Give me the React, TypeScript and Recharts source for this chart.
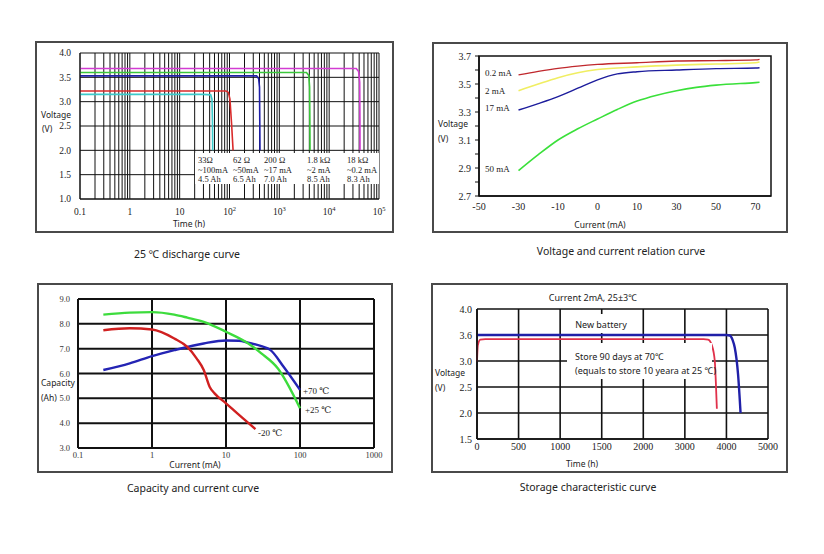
import React from 'react';
import { LineChart, Line, XAxis, YAxis, CartesianGrid, ReferenceArea } from 'recharts';

type P = [number, number];

// ---------- Panel 1: 25 ℃ discharge curve ----------
const dischargeDecades = [0.1, 1, 10, 100, 1000, 10000, 100000];
const dischargeXTickLabels = ['0.1', '1', '10', '10^2', '10^3', '10^4', '10^5'];
const dischargeYTicks = [1.0, 1.5, 2.0, 2.5, 3.0, 3.5, 4.0];
const discharge33: P[] = [[0.1, 3.15], [30, 3.15], [42, 3.14], [44.5, 3.05], [45.5, 2.6], [46, 2.0]];
const discharge62: P[] = [[0.1, 3.22], [85, 3.22], [95, 3.19], [102, 3.05], [110, 2.55], [118, 2.0]];
const discharge200: P[] = [[0.1, 3.53], [350, 3.53], [385, 3.47], [400, 3.3], [405, 2.6], [409, 2.0]];
const discharge1k8: P[] = [[0.1, 3.6], [3500, 3.6], [3900, 3.54], [4050, 3.3], [4100, 2.6], [4130, 2.0]];
const discharge18k: P[] = [[0.1, 3.68], [35000, 3.68], [39000, 3.62], [41000, 3.4], [41500, 2.6], [41600, 2.0]];
const dischargeLoadRes = ['33Ω', '62 Ω', '200 Ω', '1.8 kΩ', '18 kΩ'];
const dischargeLoadCur = ['~100mA', '~50mA', '~17 mA', '~2 mA', '~0.2 mA'];
const dischargeLoadCap = ['4.5 Ah', '6.5 Ah', '7.0 Ah', '8.5 Ah', '8.3 Ah'];

// ---------- Panel 2: voltage and current relation ----------
const relXTickLabels = [-50, -30, -10, 0, 10, 30, 50, 70];
const relYMajor = [2.7, 2.9, 3.1, 3.3, 3.5, 3.7];
const relYMinor = [2.8, 3.0, 3.2, 3.4, 3.6];
const rel02: P[] = [[-30, 3.565], [-20, 3.59], [-10, 3.612], [-5, 3.628], [0, 3.64], [10, 3.652], [30, 3.664], [50, 3.667], [70, 3.672], [72, 3.676]];
const rel2: P[] = [[-30, 3.452], [-20, 3.5], [-10, 3.545], [-5, 3.58], [0, 3.603], [10, 3.622], [30, 3.635], [50, 3.643], [70, 3.652], [72, 3.657]];
const rel17: P[] = [[-30, 3.314], [-20, 3.36], [-10, 3.41], [-5, 3.47], [0, 3.53], [5, 3.572], [10, 3.588], [30, 3.6], [50, 3.61], [70, 3.614], [72, 3.616]];
const rel50: P[] = [[-30, 2.881], [-20, 2.995], [-10, 3.1], [-5, 3.18], [0, 3.25], [5, 3.318], [10, 3.378], [20, 3.42], [30, 3.452], [40, 3.476], [50, 3.492], [70, 3.51], [72, 3.512]];

// ---------- Panel 3: capacity and current ----------
const capXTicks = [0.1, 1, 10, 100, 1000];
const capYTicks = [3, 4, 5, 6, 7, 8, 9];
const capP25: P[] = [[0.22, 8.37], [0.5, 8.45], [1, 8.47], [2, 8.37], [3, 8.25], [5, 8.08], [10, 7.68], [20, 7.21], [30, 6.81], [50, 6.21], [100, 4.6]];
const capP70: P[] = [[0.22, 6.14], [0.5, 6.41], [1, 6.7], [2, 6.94], [5, 7.21], [10, 7.33], [15, 7.32], [20, 7.24], [30, 7.1], [40, 6.94], [60, 6.27], [100, 5.34]];
const capM20: P[] = [[0.22, 7.74], [0.5, 7.82], [1, 7.77], [2, 7.41], [3, 7.07], [4, 6.61], [5, 6.14], [6, 5.47], [7, 5.2], [10, 4.8], [15, 4.33], [25, 3.76]];

// ---------- Panel 4: storage characteristic ----------
const storXTickLabels = [0, 500, 1000, 1500, 2000, 3000, 4000, 5000];
const storYTicks = [1.5, 2.0, 2.5, 3.0, 3.5, 4.0];
const storYTickLabels = ['1.5', '2.0', '2.5', '3.0', '3.6', '4.0'];
const storNew: P[] = [[0, 3.5], [2000, 3.5], [4000, 3.5], [4080, 3.49], [4150, 3.4], [4200, 3.26], [4280, 2.74], [4340, 2.0]];
const storStored: P[] = [[0, 2.99], [10, 3.3], [40, 3.41], [100, 3.42], [2000, 3.42], [3450, 3.42], [3560, 3.41], [3650, 3.3], [3720, 3.0], [3745, 2.6], [3770, 2.08]];

// ---------- helpers ----------
const SERIF = '"Liberation Serif", "DejaVu Serif", serif';
const SANS = '"Noto Sans", "DejaVu Sans", sans-serif';

const toXY = (pts: P[]) => pts.map(([x, y]) => ({ x, y }));
// equally spaced category labels -> position index (piecewise linear)
const labelPos = (labels: number[], v: number) => {
  for (let i = 0; i < labels.length - 1; i++) {
    if (v <= labels[i + 1] || i === labels.length - 2) {
      return i + (v - labels[i]) / (labels[i + 1] - labels[i]);
    }
  }
  return 0;
};
const toPosXY = (labels: number[], pts: P[]) => pts.map(([x, y]) => ({ x: labelPos(labels, x), y }));

const dischargeGridTicks: number[] = [];
dischargeDecades.slice(0, -1).forEach((d) => {
  for (let k = 1; k <= 9; k++) dischargeGridTicks.push(k * d);
});
dischargeGridTicks.push(dischargeDecades[dischargeDecades.length - 1]);

const DischargeXTick = (props: any) => {
  const { x, y, payload } = props;
  const idx = dischargeDecades.findIndex((d) => Math.abs(Math.log10(d) - Math.log10(payload.value)) < 1e-6);
  if (idx < 0) return <g />;
  const [base, exp] = dischargeXTickLabels[idx].split('^');
  return (
    <text x={x} y={y} dy="0.71em" textAnchor="middle" fontFamily={SERIF} fontSize={9.5} fill="#222">
      {base}
      {exp ? <tspan dy={-4} fontSize={6.5}>{exp}</tspan> : null}
    </text>
  );
};

const Txt = ({ x, y, children, size = 9, serif = false, center = false, bg, color = '#222' }: any) => (
  <div
    style={{
      position: 'absolute',
      left: x,
      top: y,
      transform: center ? 'translate(-50%, -50%)' : 'translate(0, -50%)',
      fontFamily: serif ? SERIF : SANS,
      fontSize: size,
      lineHeight: 1,
      whiteSpace: 'nowrap',
      color,
      background: bg,
    }}
  >
    {children}
  </div>
);

const Box = ({ x, y, w, h }: any) => (
  <div style={{ position: 'absolute', left: x, top: y, width: w, height: h, border: '2px solid #4a4a4a', boxSizing: 'border-box' }} />
);

const Abs = ({ x, y, children }: any) => <div style={{ position: 'absolute', left: x, top: y }}>{children}</div>;

export default function App() {
  return (
    <div style={{ position: 'absolute', left: 0, top: 0, width: 824, height: 554, background: '#fff', overflow: 'hidden' }}>
      {/* Panel boxes */}
      <Box x={35} y={41} w={359} h={192} />
      <Box x={432} y={42} w={356} h={191} />
      <Box x={37} y={283} w={356} h={190} />
      <Box x={431} y={283} w={357} h={190} />

      {/* Panel 1 */}
      <Abs x={36} y={42}>
        <LineChart width={360} height={190} margin={{ top: 11, right: 17, bottom: 0, left: 0 }}>
          <CartesianGrid stroke="#111" strokeWidth={1} />
          <XAxis
            type="number"
            dataKey="x"
            scale="log"
            domain={[0.1, 100000]}
            ticks={dischargeGridTicks}
            interval={0}
            tick={<DischargeXTick />}
            tickLine={false}
            tickSize={0}
            tickMargin={9}
            height={33}
            axisLine={{ stroke: '#111' }}
            allowDataOverflow
          />
          <YAxis
            type="number"
            dataKey="y"
            domain={[1, 4]}
            ticks={dischargeYTicks}
            tickFormatter={(v: number) => v.toFixed(1)}
            width={44}
            tickLine={false}
            tickSize={0}
            tickMargin={9}
            axisLine={{ stroke: '#111' }}
            tick={{ fontFamily: SERIF, fontSize: 9.5, fill: '#222' }}
          />
          <Line data={toXY(discharge33)} dataKey="y" stroke="#3ccaca" strokeWidth={1.6} dot={false} isAnimationActive={false} type="linear" />
          <Line data={toXY(discharge62)} dataKey="y" stroke="#d92b2b" strokeWidth={1.6} dot={false} isAnimationActive={false} type="linear" />
          <Line data={toXY(discharge200)} dataKey="y" stroke="#1f1fa8" strokeWidth={1.6} dot={false} isAnimationActive={false} type="linear" />
          <Line data={toXY(discharge1k8)} dataKey="y" stroke="#3cc83c" strokeWidth={1.6} dot={false} isAnimationActive={false} type="linear" />
          <Line data={toXY(discharge18k)} dataKey="y" stroke="#d23cd2" strokeWidth={1.6} dot={false} isAnimationActive={false} type="linear" />
        </LineChart>
      </Abs>
      <div style={{ position: 'absolute', left: 195, top: 153, width: 184, height: 31, background: '#fff' }} />
      {[198, 233, 264, 307, 347].map((x, i) => (
        <React.Fragment key={i}>
          <Txt x={x} y={160} serif size={8.5}>{dischargeLoadRes[i]}</Txt>
          <Txt x={x} y={170} serif size={8.5}>{dischargeLoadCur[i]}</Txt>
          <Txt x={x} y={179} serif size={8.5}>{dischargeLoadCap[i]}</Txt>
        </React.Fragment>
      ))}
      <Txt x={41} y={115} size={8.5}>Voltage</Txt>
      <Txt x={42} y={129} size={8.5}>(V)</Txt>
      <Txt x={189} y={224} size={8.5} center>Time (h)</Txt>
      <Txt x={187} y={254} size={10.5} center>25 ℃ discharge curve</Txt>

      {/* Panel 2 */}
      <Abs x={432} y={42}>
        <LineChart width={356} height={191} margin={{ top: 14, right: 17, bottom: 0, left: 0 }}>
          <XAxis
            type="number"
            dataKey="x"
            domain={[0, 7.39]}
            ticks={relXTickLabels.map((_, i) => i)}
            interval={0}
            tickFormatter={(i: number) => String(relXTickLabels[i])}
            tickLine={false}
            tickSize={0}
            tickMargin={7}
            height={37}
            axisLine={{ stroke: '#111', strokeWidth: 1.5 }}
            tick={{ fontFamily: SERIF, fontSize: 10, fill: '#222' }}
            allowDataOverflow
          />
          <YAxis
            type="number"
            dataKey="y"
            domain={[2.7, 3.7]}
            ticks={[...relYMajor, ...relYMinor].sort((a, b) => a - b)}
            interval={0}
            tickFormatter={(v: number) => (relYMajor.some((m) => Math.abs(m - v) < 1e-6) ? v.toFixed(1) : '')}
            width={47}
            tickLine={{ stroke: '#111' }}
            tickSize={4}
            tickMargin={4}
            axisLine={{ stroke: '#111', strokeWidth: 1.5 }}
            tick={{ fontFamily: SERIF, fontSize: 10, fill: '#222' }}
            allowDataOverflow
          />
          <ReferenceArea x1={0} x2={7.39} y1={2.7} y2={3.7} fill="none" stroke="#111" strokeWidth={1.5} ifOverflow="visible" />
          <Line data={toPosXY(relXTickLabels, rel02)} dataKey="y" stroke="#c0282d" strokeWidth={1.4} dot={false} isAnimationActive={false} type="monotone" />
          <Line data={toPosXY(relXTickLabels, rel2)} dataKey="y" stroke="#f0ee62" strokeWidth={1.6} dot={false} isAnimationActive={false} type="monotone" />
          <Line data={toPosXY(relXTickLabels, rel17)} dataKey="y" stroke="#1c1c9c" strokeWidth={1.4} dot={false} isAnimationActive={false} type="monotone" />
          <Line data={toPosXY(relXTickLabels, rel50)} dataKey="y" stroke="#3ae03a" strokeWidth={1.6} dot={false} isAnimationActive={false} type="monotone" />
        </LineChart>
      </Abs>
      <Txt x={485} y={73} serif size={9}>0.2 mA</Txt>
      <Txt x={485} y={91} serif size={9}>2 mA</Txt>
      <Txt x={485} y={108} serif size={9}>17 mA</Txt>
      <Txt x={485} y={169} serif size={9}>50 mA</Txt>
      <Txt x={438} y={124} size={8.5}>Voltage</Txt>
      <Txt x={438} y={139} size={8.5}>(V)</Txt>
      <Txt x={600} y={225} size={8.5} center>Current (mA)</Txt>
      <Txt x={621} y={251} size={10.5} center>Voltage and current relation curve</Txt>

      {/* Panel 3 */}
      <Abs x={37} y={283}>
        <LineChart width={356} height={190} margin={{ top: 16, right: 19, bottom: 0, left: 0 }}>
          <CartesianGrid stroke="#111" strokeWidth={2} />
          <XAxis
            type="number"
            dataKey="x"
            scale="log"
            domain={[0.1, 1000]}
            ticks={capXTicks}
            interval={0}
            tickFormatter={(v: number) => String(v)}
            tickLine={false}
            tickSize={0}
            tickMargin={4}
            height={25}
            axisLine={{ stroke: '#111', strokeWidth: 2 }}
            tick={{ fontFamily: SERIF, fontSize: 8.5, fill: '#333' }}
            allowDataOverflow
          />
          <YAxis
            type="number"
            dataKey="y"
            domain={[3, 9]}
            ticks={capYTicks}
            interval={0}
            tickFormatter={(v: number) => v.toFixed(1)}
            width={41}
            tickLine={false}
            tickSize={0}
            tickMargin={8}
            axisLine={{ stroke: '#111', strokeWidth: 2 }}
            tick={{ fontFamily: SERIF, fontSize: 8.5, fill: '#333' }}
          />
          <Line data={toXY(capP70)} dataKey="y" stroke="#2424b4" strokeWidth={2.4} dot={false} isAnimationActive={false} type="monotone" />
          <Line data={toXY(capP25)} dataKey="y" stroke="#3ddc3d" strokeWidth={2.4} dot={false} isAnimationActive={false} type="monotone" />
          <Line data={toXY(capM20)} dataKey="y" stroke="#d02020" strokeWidth={2.4} dot={false} isAnimationActive={false} type="monotone" />
        </LineChart>
      </Abs>
      <Txt x={303} y={391} serif size={9}>+70 ℃</Txt>
      <Txt x={305} y={410} serif size={9}>+25 ℃</Txt>
      <Txt x={258} y={433} serif size={9}>-20 ℃</Txt>
      <Txt x={41} y={383} size={8.5}>Capacity</Txt>
      <Txt x={41} y={398} size={8.5}>(Ah)</Txt>
      <Txt x={195} y={465} size={8.5} center>Current (mA)</Txt>
      <Txt x={193} y={488} size={10.5} center>Capacity and current curve</Txt>

      {/* Panel 4 */}
      <Abs x={431} y={283}>
        <LineChart width={357} height={190} margin={{ top: 26, right: 20, bottom: 0, left: 0 }}>
          <CartesianGrid stroke="#111" strokeWidth={1.6} />
          <XAxis
            type="number"
            dataKey="x"
            domain={[0, 7]}
            ticks={storXTickLabels.map((_, i) => i)}
            interval={0}
            tickFormatter={(i: number) => String(storXTickLabels[i])}
            tickLine={false}
            tickSize={0}
            tickMargin={4}
            height={34}
            axisLine={{ stroke: '#111', strokeWidth: 1.6 }}
            tick={{ fontFamily: SERIF, fontSize: 10, fill: '#222' }}
          />
          <YAxis
            type="number"
            dataKey="y"
            domain={[1.5, 4]}
            ticks={storYTicks}
            interval={0}
            tickFormatter={(v: number) => storYTickLabels[storYTicks.findIndex((t) => Math.abs(t - v) < 1e-6)]}
            width={46}
            tickLine={false}
            tickSize={0}
            tickMargin={5}
            axisLine={{ stroke: '#111', strokeWidth: 1.6 }}
            tick={{ fontFamily: SERIF, fontSize: 10, fill: '#222' }}
          />
          <Line data={toPosXY(storXTickLabels, storStored)} dataKey="y" stroke="#e0304a" strokeWidth={1.8} dot={false} isAnimationActive={false} type="monotone" />
          <Line data={toPosXY(storXTickLabels, storNew)} dataKey="y" stroke="#2020a8" strokeWidth={2.4} dot={false} isAnimationActive={false} type="monotone" />
        </LineChart>
      </Abs>
      <Txt x={593} y={297} size={9} center>Current 2mA, 25±3℃</Txt>
      <div style={{ position: 'absolute', left: 576, top: 314, width: 52, height: 19, background: '#fff' }} />
      <Txt x={601} y={324} size={9} center>New battery</Txt>
      <div style={{ position: 'absolute', left: 567, top: 343, width: 145, height: 36, background: '#fff' }} />
      <Txt x={575} y={356} size={9}>Store 90 days at 70℃</Txt>
      <Txt x={575} y={370} size={9}>(equals to store 10 yeara at 25 ℃)</Txt>
      <Txt x={435} y={373} size={8.5}>Voltage</Txt>
      <Txt x={435} y={388} size={8.5}>(V)</Txt>
      <Txt x={582} y={464} size={8.5} center>Time (h)</Txt>
      <Txt x={588} y={487} size={10.5} center>Storage characteristic curve</Txt>
    </div>
  );
}
